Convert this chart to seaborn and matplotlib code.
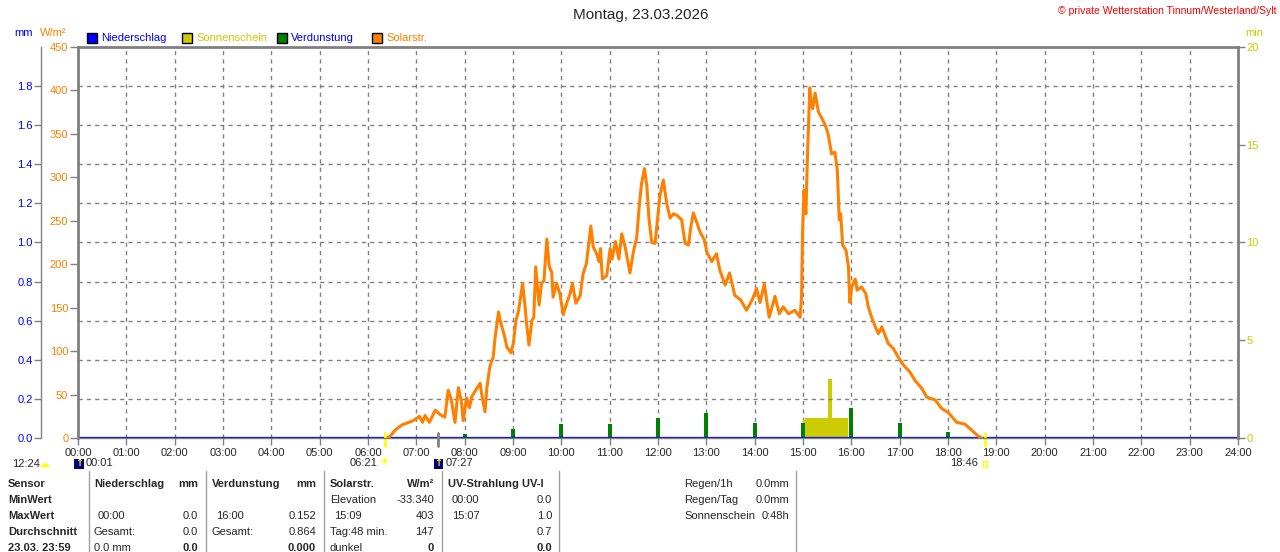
import seaborn as sns
import matplotlib.pyplot as plt
import matplotlib.transforms as mtrans
from matplotlib.patches import Rectangle
from matplotlib.lines import Line2D

# Solarstrahlung in W/m2, time of day in hours
solar_time = [6.40, 6.46, 6.56, 6.70, 6.94, 7.06, 7.13, 7.18, 7.27, 7.39, 7.49, 7.59, 7.66, 7.72,
              7.80, 7.87, 7.93, 7.97, 8.04, 8.10, 8.15, 8.23, 8.32, 8.35, 8.42, 8.46, 8.52, 8.59,
              8.63, 8.70, 8.75, 8.83, 8.87, 8.96, 9.01, 9.06, 9.11, 9.20, 9.25, 9.28, 9.33, 9.39,
              9.43, 9.47, 9.54, 9.59, 9.64, 9.70, 9.75, 9.80, 9.83, 9.90, 9.97, 10.04, 10.11, 10.18,
              10.23, 10.30, 10.39, 10.45, 10.52, 10.61, 10.66, 10.73, 10.78, 10.81, 10.85, 10.94,
              11.01, 11.05, 11.12, 11.19, 11.25, 11.32, 11.42, 11.49, 11.56, 11.61, 11.66, 11.72,
              11.77, 11.81, 11.87, 11.94, 11.99, 12.04, 12.11, 12.18, 12.25, 12.32, 12.40, 12.49,
              12.56, 12.63, 12.68, 12.73, 12.81, 12.87, 12.96, 13.01, 13.11, 13.21, 13.28, 13.39,
              13.48, 13.59, 13.71, 13.83, 13.94, 14.04, 14.11, 14.20, 14.30, 14.42, 14.51, 14.59,
              14.70, 14.83, 14.94, 14.97, 14.99, 15.02, 15.06, 15.09, 15.14, 15.16, 15.20, 15.25,
              15.32, 15.39, 15.46, 15.52, 15.59, 15.66, 15.71, 15.75, 15.78, 15.82, 15.89, 15.94,
              15.97, 16.01, 16.08, 16.12, 16.21, 16.30, 16.35, 16.42, 16.51, 16.56, 16.63, 16.70,
              16.76, 16.87, 16.97, 17.08, 17.21, 17.32, 17.46, 17.56, 17.73, 17.87, 18.01, 18.18,
              18.35, 18.49, 18.63, 18.70]
solar_wm2 = [0, 2, 9, 15, 20, 25, 18, 26, 18, 32, 27, 24, 55, 45,
             18, 58, 43, 20, 46, 35, 48, 55, 63, 51, 30, 58, 82, 93,
             116, 145, 132, 116, 105, 98, 110, 135, 145, 178, 151, 132, 107, 135,
             139, 197, 153, 178, 181, 229, 197, 191, 162, 178, 166, 142, 155, 166,
             178, 155, 164, 189, 201, 244, 220, 212, 203, 218, 183, 187,
             218, 206, 226, 206, 235, 220, 190, 214, 231, 266, 293, 310,
             290, 254, 225, 224, 251, 279, 297, 270, 253, 258, 256, 251,
             224, 222, 243, 259, 247, 237, 228, 214, 203, 212, 193, 176,
             190, 164, 159, 147, 158, 172, 156, 177, 139, 163, 143, 151,
             143, 147, 139, 162, 235, 285, 258, 320, 403, 389, 379, 397,
             375, 368, 360, 350, 327, 329, 308, 251, 258, 222, 216, 197,
             156, 174, 183, 170, 174, 166, 151, 139, 126, 120, 128, 118,
             109, 103, 93, 84, 76, 66, 57, 47, 44, 34, 29, 18,
             16, 9, 2, 0]

# Verdunstung per hour in mm
evap_time = [8, 9, 10, 11, 12, 13, 14, 15, 16, 17, 18]
evap_mm = [0.020, 0.046, 0.072, 0.072, 0.100, 0.126, 0.077, 0.077, 0.152, 0.077, 0.029]

# Sonnenschein in min (bar start, bar width in hours)
sun_start = [15.00, 15.04, 15.52, 15.59]
sun_width = [0.04, 0.48, 0.07, 0.34]
sun_min = [0.93, 1.0, 3.0, 1.0]

# Niederschlag in mm
rain_time = [0, 24]
rain_mm = [0.0, 0.0]

hour_labels = ["%02d:00" % h for h in range(25)]
wm2_ticks = [0, 50, 100, 150, 200, 250, 300, 350, 400, 450]
mm_ticks = [0.0, 0.2, 0.4, 0.6, 0.8, 1.0, 1.2, 1.4, 1.6, 1.8]
min_ticks = [0, 5, 10, 15, 20]

ORANGE = '#ff8000'
YELLOW = '#cccc00'
BLUE = '#0000ff'
GREEN = '#008000'
GRAY = '#808080'

sns.set_style('white')
plt.rcParams['font.family'] = ['Liberation Sans', 'DejaVu Sans']

W, H = 1280, 552
fig = plt.figure(figsize=(12.8, 5.52), dpi=100)
ax = fig.add_axes([78 / W, 1 - 438 / H, 1160 / W, 391 / H])
ax_mm = ax.twinx()
ax_min = ax.twinx()
ax.set_zorder(3)
ax_mm.set_zorder(2)
ax_min.set_zorder(1)
for a in (ax, ax_mm, ax_min):
    a.patch.set_visible(False)

# sunshine minutes (right axis), the hour grid lives here so bars sit on top of it
ax_min.bar(sun_start, sun_min, width=sun_width, align='edge', color=YELLOW, linewidth=0)
ax_min.set_ylim(0, 20)
ax_min.set_yticks(min_ticks)
ax_min.tick_params(axis='y', right=True, length=5, width=1, color=GRAY,
                   labelsize=8, labelcolor=YELLOW, pad=1)
ax_min.xaxis.set_visible(True)
ax_min.tick_params(axis='x', bottom=False, top=False, labelbottom=False, labeltop=False)
ax_min.xaxis.grid(True, color=GRAY, linestyle=(0, (3, 3)), lw=1)
for s in ax_min.spines.values():
    s.set_visible(False)

# evaporation and rain (mm axis, offset to the left)
ax_mm.bar(evap_time, evap_mm, width=0.085, color=GREEN, linewidth=0)
sns.lineplot(x=rain_time, y=rain_mm, ax=ax_mm, color=BLUE, lw=1.6)
ax_mm.set_ylim(0, 2.0)
ax_mm.set_yticks(mm_ticks)
ax_mm.set_yticklabels(["%.1f" % v for v in mm_ticks])
ax_mm.yaxis.set_ticks_position('left')
ax_mm.tick_params(axis='y', left=True, right=False, length=5, width=1, color=GRAY,
                  labelsize=8, labelcolor=BLUE, pad=1)
for k in ('right', 'top', 'bottom'):
    ax_mm.spines[k].set_visible(False)
ax_mm.spines['left'].set_visible(True)
ax_mm.spines['left'].set_position(('outward', 26.6))
ax_mm.spines['left'].set_color(GRAY)
ax_mm.spines['left'].set_linewidth(1)
ax_mm.yaxis.grid(True, color=GRAY, linestyle=(0, (3, 3)), lw=1)
ax_mm.set_ylabel('')

# solar radiation
sns.lineplot(x=solar_time, y=solar_wm2, ax=ax, color=ORANGE, lw=2.2, estimator=None, sort=False)
ax.set_xlim(0, 24)
ax.set_ylim(0, 450)
ax_min.set_xlim(0, 24)
ax.set_xticks(range(25))
ax.set_xticklabels(hour_labels)
ax.set_yticks(wm2_ticks)
ax.set_xlabel('')
ax.set_ylabel('')
ax.tick_params(axis='x', bottom=True, length=5, width=1, color=GRAY, labelsize=8, pad=2)
ax.tick_params(axis='y', left=True, length=6, width=1, color=GRAY,
               labelsize=8, labelcolor=ORANGE, pad=1)
for k in ('top', 'left', 'right'):
    ax.spines[k].set_color(GRAY)
    ax.spines[k].set_linewidth(2)
ax.spines['bottom'].set_color(GRAY)
ax.spines['bottom'].set_linewidth(1)


def ftext(x, y, s, **kw):
    kw.setdefault('fontsize', 8)
    kw.setdefault('va', 'center')
    fig.text(x / W, 1 - y / H, s, **kw)


# header
ftext(641, 15, 'Montag, 23.03.2026', fontsize=11, ha='center')
ftext(1276, 11, '© private Wetterstation Tinnum/Westerland/Sylt', fontsize=7.5,
      ha='right', color='#ff0000')
ftext(14, 33, 'mm', color=BLUE)
ftext(40, 33, 'W/m²', color=ORANGE)
ftext(1245, 33, 'min', color=YELLOW)
legend = [(87, BLUE, 'Niederschlag', BLUE), (182, YELLOW, 'Sonnenschein', YELLOW),
          (277, GREEN, 'Verdunstung', BLUE), (372, ORANGE, 'Solarstr.', ORANGE)]
for x, fc, txt, tc in legend:
    fig.add_artist(Rectangle((x / W, 1 - 43 / H), 10 / W, 10 / H, transform=fig.transFigure,
                             facecolor=fc, edgecolor='black', lw=1))
    ftext(x + 14, 38, txt, color=tc)

# sun / moon events below the time axis
bt = mtrans.blended_transform_factory(ax.transData, fig.transFigure)


def to_h(t):
    hh, mm = t.split(':')
    return int(hh) + int(mm) / 60


for t, col in (('06:21', '#ffff00'), ('07:27', GRAY), ('18:46', '#ffff00')):
    h = to_h(t)
    ax.plot([h, h], [1 - 433 / H, 1 - 446 / H], transform=bt, color=col, lw=2, clip_on=False)

for t in ('00:01', '07:27'):
    h = to_h(t)
    fig.add_artist(Rectangle((h - 0.09, 1 - 469 / H), 0.19, 10 / H, transform=bt,
                             facecolor='#000080', edgecolor='none'))
    fig.text(h, 1 - 463 / H, '↑', transform=bt, ha='center', va='center', fontsize=7,
             color='#ffff00', family='DejaVu Sans', fontweight='bold')
    fig.text(h + 0.15, 1 - 463 / H, t, transform=bt, ha='left', va='center', fontsize=8)

h = to_h('06:21')
fig.text(h, 1 - 463 / H, '☀', transform=bt, ha='center', va='center', fontsize=9,
         color='#ffff00', family='DejaVu Sans')
fig.text(h - 0.15, 1 - 463 / H, '06:21', transform=bt, ha='right', va='center', fontsize=8)
h = to_h('18:46')
fig.add_artist(Rectangle((h - 0.05, 1 - 467 / H), 0.1, 6 / H, transform=bt,
                         facecolor='none', edgecolor='#ffff00', lw=1))
fig.text(h - 0.15, 1 - 463 / H, '18:46', transform=bt, ha='right', va='center', fontsize=8)
ftext(12, 464, '12:24')
ftext(44, 464, '☁', color='#ffff00', family='DejaVu Sans', fontsize=8, ha='center')

# table below the chart
for x in (89, 206, 324, 442, 559, 796):
    fig.add_artist(Line2D([x / W, x / W], [0, 1 - 471 / H], color='#a0a0a0', lw=1))

rows_y = [484, 500, 516, 532, 548]
first_col = ['Sensor', 'MinWert', 'MaxWert', 'Durchschnitt', '23.03. 23:59']
for y, s in zip(rows_y, first_col):
    ftext(8, y, s, fontweight='bold')

# (left x, right x, column texts left, column texts right)
columns = [
    (94, 198, ['Niederschlag', '', ' 00:00', 'Gesamt:', '0.0 mm'],
     ['mm', '', '0.0', '0.0', '0.0']),
    (212, 316, ['Verdunstung', '', ' 16:00', 'Gesamt:', ''],
     ['mm', '', '0.152', '0.864', '0.000']),
    (330, 434, ['Solarstr.', 'Elevation', ' 15:09', 'Tag:48 min.', 'dunkel'],
     ['W/m²', '-33.340', '403', '147', '0']),
    (448, 552, ['UV-Strahlung UV-I', ' 00:00', ' 15:07', '', ''],
     ['', '0.0', '1.0', '0.7', '0.0']),
]
for xl, xr, lefts, rights in columns:
    for i, (y, sl, sr) in enumerate(zip(rows_y, lefts, rights)):
        bold = i == 0
        if sl:
            ftext(xl + (4 if sl.startswith(' ') else 0), y, sl.strip(),
                  fontweight='bold' if bold else 'normal')
        if sr:
            ftext(xr, y, sr, ha='right', fontweight='bold' if (bold or i == 4) else 'normal')

extra_left = ['Regen/1h', 'Regen/Tag', 'Sonnenschein']
extra_right = ['0.0mm', '0.0mm', '0:48h']
for y, sl, sr in zip(rows_y, extra_left, extra_right):
    ftext(684, y, sl)
    ftext(789, y, sr, ha='right')

plt.savefig('out.png', dpi=100)
